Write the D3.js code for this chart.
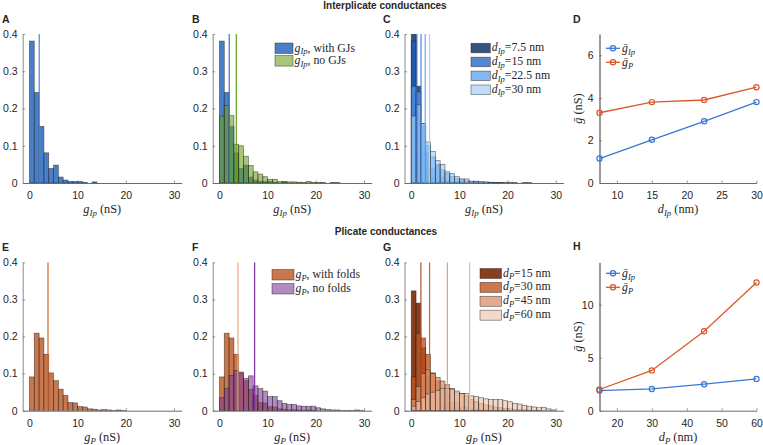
<!DOCTYPE html>
<html><head><meta charset="utf-8">
<script src="https://cdn.jsdelivr.net/npm/d3@7"></script>
<style>
body{margin:0;background:#fff}
svg{display:block}
text{font-family:"Liberation Sans",Arial,sans-serif;fill:#262626}
.math{font-family:"Liberation Serif","Times New Roman",serif}
</style></head><body>
<svg id="c" width="763" height="445"></svg>
<script>
// ---------- DATA ----------
const binEdges = [0,1,2,3,4,5,6,7,8,9,10,11,12,13,14,15,16,17,18,19,20,21,22,23,24,25,26,27,28,29,30];
const histXTicks = [0,10,20,30];
const histYTicks = [0,0.1,0.2,0.3,0.4];
const histYTickLabels = ['0','0.1','0.2','0.3','0.4'];

const gIpWithGJs = [0.381,0.243,0.152,0.081,0.039,0.048,0.016,0.008,0.004,0.004,0.004,0.001,0,0.003];
const gIpNoGJs = [0.18,0.208,0.181,0.104,0.10,0.072,0.047,0.030,0.024,0.017,0.010,0.010,0.004,0.004,0.003,0.003,0.002,0.001,0.004,0.001,0.001,0.001,0,0.001,0.001];
const meanGIpWithGJs = 2.03, meanGIpNoGJs = 3.5;

const gIpD75 = [0.58,0.26,0.09,0.035,0.015,0.008,0.004,0.003,0.002,0.001,0.001];
const gIpD15 = [0.381,0.243,0.152,0.081,0.039,0.048,0.016,0.008,0.004,0.004,0.004,0.001,0,0.003];
const gIpD225 = [0.26,0.245,0.16,0.1,0.07,0.05,0.035,0.025,0.017,0.012,0.009,0.006,0.004,0.003,0.002,0.002,0.001,0.001,0.001];
const gIpD30 = [0.18,0.21,0.16,0.11,0.085,0.06,0.05,0.03,0.025,0.017,0.011,0.011,0.005,0.005,0.004,0.003,0.002,0.001,0.001,0.002,0.002,0.001,0,0.001,0.001];

const gPWithFolds = [0.091,0.209,0.196,0.152,0.102,0.081,0.058,0.041,0.022,0.021,0.011,0.010,0.005,0.004,0.002,0.003,0.002,0.001,0.002,0.001];
const gPNoFolds = [0.035,0.06,0.095,0.108,0.104,0.087,0.094,0.067,0.06,0.053,0.038,0.038,0.027,0.02,0.017,0.017,0.013,0.012,0.012,0.012,0.008,0.005,0.003,0.002,0.002,0.001,0.001,0.001,0.002,0.001];
const meanGPWithFolds = 3.85, meanGPNoFolds = 7.3;

const gPD15 = [0.323,0.29,0.17,0.09,0.05,0.03,0.018,0.01,0.007,0.004,0.003,0.002,0.001,0.001,0.001];
const gPD30 = [0.091,0.209,0.196,0.152,0.102,0.081,0.058,0.041,0.022,0.021,0.011,0.010,0.005,0.004,0.002,0.003,0.002,0.001,0.002,0.001];
const gPD45 = [0.03,0.065,0.1,0.11,0.1,0.09,0.08,0.07,0.06,0.05,0.046,0.04,0.03,0.025,0.02,0.016,0.013,0.01,0.008,0.006,0.005,0.004,0.003,0.002,0.002,0.001,0.001];
const gPD60 = [0.012,0.025,0.035,0.045,0.05,0.055,0.06,0.06,0.058,0.053,0.046,0.046,0.04,0.038,0.035,0.032,0.03,0.03,0.03,0.027,0.024,0.02,0.018,0.014,0.012,0.01,0.008,0.009,0.005,0.002];

const dIp = [7.5,15,22.5,30];
const meanGIpVsDIp = [1.15,2.03,2.9,3.8];
const meanGPVsDIp = [3.3,3.8,3.9,4.5];
const dIpTicks = [10,15,20,25,30];
const dIpYTicks = [0,2,4,6];

const dP = [15,30,45,60];
const meanGIpVsDP = [1.9,2.05,2.5,3.0];
const meanGPVsDP = [2.0,3.8,7.5,12.1];
const dPTicks = [20,30,40,50,60];
const dPYTicks = [0,5,10];

// ---------- HELPERS ----------
const svg = d3.select('#c');
const FS = 10.5;
const MS = 12.3;
const LS = 11.8;
const histXDomain = [-1.4, 31.6];
const histW = 159;
const topY = [183, 34], botY = [410.7, 262.3];
const lineX = [599.5, 756.5];

function addMath(t, parts, size) {
  let wasSub = false;
  parts.forEach(p => {
    const ts = t.append('tspan').text(p.t);
    if (p.i) ts.attr('font-style', 'italic');
    if (p.sub) {
      ts.attr('font-size', size * 0.72);
      if (!wasSub) ts.attr('dy', size * 0.25);
      wasSub = true;
    } else {
      if (wasSub) ts.attr('dy', -size * 0.25);
      wasSub = false;
    }
  });
  return t;
}
function mathText(x, y, parts, size, anchor) {
  const t = svg.append('text').attr('class', 'math').attr('x', x).attr('y', y)
    .attr('font-size', size).attr('text-anchor', anchor || 'start');
  return addMath(t, parts, size);
}
const gIpLbl = [{t:'g',i:true},{t:'Ip',i:true,sub:true}];
const gPLbl = [{t:'g',i:true},{t:'P',i:true,sub:true}];

function styleAxis(a, domainColor, domainWidth) {
  a.select('.domain').attr('stroke', domainColor).attr('stroke-width', domainWidth);
  a.selectAll('.tick line').attr('stroke', '#555').attr('stroke-width', 0.6);
  a.selectAll('.tick text').attr('font-size', FS).attr('fill', '#262626')
    .attr('font-family', '"Liberation Sans",Arial,sans-serif');
}

function drawHist(cfg) {
  const x = d3.scaleLinear().domain(histXDomain).range([cfg.x0, cfg.x0 + histW]);
  const y = d3.scaleLinear().domain([0, 0.4]).range(cfg.yRange);
  const id = 'clip' + cfg.id;
  svg.append('clipPath').attr('id', id).append('rect')
    .attr('x', cfg.x0).attr('y', y(0.4)).attr('width', histW).attr('height', y(0) - y(0.4));
  const plot = svg.append('g').attr('clip-path', `url(#${id})`);
  cfg.series.forEach(s => {
    plot.append('g').selectAll('rect')
      .data(s.data.map((v, i) => ({v, i})).filter(d => d.v > 0))
      .join('rect')
      .attr('x', d => x(binEdges[d.i])).attr('width', d => x(binEdges[d.i + 1]) - x(binEdges[d.i]))
      .attr('y', d => y(d.v)).attr('height', d => y(0) - y(d.v))
      .attr('fill', s.color).attr('fill-opacity', s.op)
      .attr('stroke', '#1a1a1a').attr('stroke-opacity', 0.6).attr('stroke-width', 0.7);
  });
  cfg.means.forEach(m => {
    plot.append('line').attr('x1', x(m.v)).attr('x2', x(m.v))
      .attr('y1', y(0)).attr('y2', y(0.4)).attr('stroke', m.color).attr('stroke-width', 1.2);
  });
  const ya = svg.append('g').attr('transform', `translate(${cfg.x0},0)`)
    .call(d3.axisLeft(y).tickValues(histYTicks).tickFormat((d, i) => histYTickLabels[i])
      .tickSizeInner(-2.5).tickSizeOuter(0).tickPadding(5));
  styleAxis(ya, '#8a8a8a', 1);
  const xa = svg.append('g').attr('transform', `translate(0,${cfg.yRange[0]})`)
    .call(d3.axisBottom(x).tickValues(histXTicks).tickSizeInner(-2.5).tickSizeOuter(0).tickPadding(9));
  styleAxis(xa, '#6a6a6a', 1);
  mathText(cfg.x0 + histW / 2, cfg.yRange[0] + 30, cfg.xLabel.concat([{t:' (nS)'}]), MS, 'middle');
  if (cfg.legend) {
    const L = cfg.legend;
    L.items.forEach((it, k) => {
      const yy = L.y + k * L.dy;
      svg.append('rect').attr('x', L.x).attr('y', yy).attr('width', L.w).attr('height', L.h)
        .attr('fill', it.color).attr('fill-opacity', it.op)
        .attr('stroke', '#1a1a1a').attr('stroke-opacity', 0.6).attr('stroke-width', 0.7);
      mathText(L.x + L.w + 1.5, yy + L.h - 2, it.label, LS);
    });
  }
}

function drawLine(cfg) {
  const x = d3.scaleLinear().domain(cfg.xDomain).range(lineX);
  const y = d3.scaleLinear().domain([0, cfg.yMax]).range(cfg.yRange);
  const ya = svg.append('g').attr('transform', `translate(${lineX[0]},0)`)
    .call(d3.axisLeft(y).tickValues(cfg.yTicks).tickFormat(d3.format('d'))
      .tickSizeInner(-2.5).tickSizeOuter(0).tickPadding(6));
  styleAxis(ya, '#9a9a9a', 2);
  const xa = svg.append('g').attr('transform', `translate(0,${cfg.yRange[0]})`)
    .call(d3.axisBottom(x).tickValues(cfg.xTicks).tickSizeInner(-2.5).tickSizeOuter(0).tickPadding(9));
  styleAxis(xa, '#6a6a6a', 1);
  cfg.series.forEach(s => {
    const pts = cfg.xs.map((v, i) => [x(v), y(s.vals[i])]);
    svg.append('path').attr('d', d3.line()(pts)).attr('fill', 'none')
      .attr('stroke', s.color).attr('stroke-width', 1.3);
    svg.append('g').selectAll('circle').data(pts).join('circle')
      .attr('cx', d => d[0]).attr('cy', d => d[1]).attr('r', 2.6)
      .attr('fill', 'none').attr('stroke', s.color).attr('stroke-width', 1.2);
  });
  cfg.series.forEach((s, k) => {
    const yy = cfg.legendY + k * 14;
    svg.append('line').attr('x1', 606).attr('x2', 620).attr('y1', yy).attr('y2', yy)
      .attr('stroke', s.color).attr('stroke-width', 1.3);
    svg.append('circle').attr('cx', 613).attr('cy', yy).attr('r', 2.6)
      .attr('fill', 'none').attr('stroke', s.color).attr('stroke-width', 1.2);
    mathText(622, yy + 3.5, s.label, LS);
  });
  const yl = svg.append('text').attr('class', 'math').attr('font-size', MS)
    .attr('text-anchor', 'middle')
    .attr('transform', `translate(582,${(cfg.yRange[0] + cfg.yRange[1]) / 2}) rotate(-90)`);
  addMath(yl, [{t:'g\u0304',i:true},{t:' (nS)'}], MS);
  mathText((lineX[0] + lineX[1]) / 2, cfg.yRange[0] + 30, cfg.xLabel.concat([{t:' (nm)'}]), MS, 'middle');
}

// ---------- TITLES & LETTERS ----------
svg.append('text').attr('x', 385).attr('y', 9).attr('text-anchor', 'middle')
  .attr('font-size', 10).attr('font-weight', 'bold').attr('fill', '#111').text('Interplicate conductances');
svg.append('text').attr('x', 386).attr('y', 235).attr('text-anchor', 'middle')
  .attr('font-size', 10).attr('font-weight', 'bold').attr('fill', '#111').text('Plicate conductances');
[['A',2,23],['B',192,23],['C',383,23],['D',573,23],['E',2,251],['F',192,251],['G',383,251],['H',573,250]]
  .forEach(([l, x, y]) => svg.append('text').attr('x', x).attr('y', y).attr('font-size', 10.5)
    .attr('font-weight', 'bold').attr('fill', '#111').text(l));

// ---------- COLORS ----------
const cBlue = '#1d5fb9', cGreen = '#6ea01e', cOrange = '#b94a12', cPurple = '#7e3d98';
const cIp = ['#1f3f73', '#1a5fc0', '#4d9bf1', '#9ecdf8'];
const opIp = [0.9, 0.75, 0.7, 0.65];
const cP = ['#7a2a08', '#c2541f', '#db9068', '#ecc4ae'];
const opP = [0.9, 0.8, 0.75, 0.65];

// ---------- PANELS ----------
drawHist({id:'A', x0:22.7, yRange:topY, xLabel:gIpLbl,
  series:[{data:gIpWithGJs, color:cBlue, op:0.8}],
  means:[{v:meanGIpWithGJs, color:'#4f86d6'}]});

drawHist({id:'B', x0:212.7, yRange:topY, xLabel:gIpLbl,
  series:[{data:gIpWithGJs, color:cBlue, op:0.8},{data:gIpNoGJs, color:cGreen, op:0.6}],
  means:[{v:meanGIpWithGJs, color:'#3d72d4'},{v:meanGIpNoGJs, color:'#62a313'}],
  legend:{x:275, y:43, dy:12.6, w:18, h:10.5, items:[
    {color:cBlue, op:0.8, label:gIpLbl.concat([{t:', with GJs'}])},
    {color:cGreen, op:0.6, label:gIpLbl.concat([{t:', no GJs'}])}]}});

drawHist({id:'C', x0:404.5, yRange:topY, xLabel:gIpLbl,
  series:[gIpD75, gIpD15, gIpD225, gIpD30].map((d, i) => ({data:d, color:cIp[i], op:opIp[i]})),
  means:meanGIpVsDIp.map((v, i) => ({v, color:['#3a63a8','#4a86d8','#6aaaf0','#a8d2fa'][i]})),
  legend:{x:471, y:43.3, dy:13.9, w:19.3, h:9.5, items:dIp.map((d, i) => ({color:cIp[i], op:opIp[i],
    label:[{t:'d',i:true},{t:'Ip',i:true,sub:true},{t:'=' + d + ' nm'}]}))}});

drawLine({xDomain:[7.5,30], yMax:7, yRange:topY, yTicks:dIpYTicks, xTicks:dIpTicks, xs:dIp,
  legendY:48.3, xLabel:[{t:'d',i:true},{t:'Ip',i:true,sub:true}],
  series:[{vals:meanGIpVsDIp, color:'#3c78d2', label:[{t:'g\u0304',i:true},{t:'Ip',i:true,sub:true}]},
          {vals:meanGPVsDIp, color:'#d95a28', label:[{t:'g\u0304',i:true},{t:'P',i:true,sub:true}]}]});

drawHist({id:'E', x0:22.7, yRange:botY, xLabel:gPLbl,
  series:[{data:gPWithFolds, color:cOrange, op:0.75}],
  means:[{v:meanGPWithFolds, color:'#d2612c'}]});

drawHist({id:'F', x0:212.7, yRange:botY, xLabel:gPLbl,
  series:[{data:gPWithFolds, color:cOrange, op:0.75},{data:gPNoFolds, color:cPurple, op:0.6}],
  means:[{v:meanGPWithFolds, color:'#eba888'},{v:meanGPNoFolds, color:'#7a2fa0'}],
  legend:{x:272, y:269.5, dy:14, w:22, h:10.5, items:[
    {color:cOrange, op:0.75, label:gPLbl.concat([{t:', with folds'}])},
    {color:cPurple, op:0.6, label:gPLbl.concat([{t:', no folds'}])}]}});

drawHist({id:'G', x0:404.5, yRange:botY, xLabel:gPLbl,
  series:[gPD15, gPD30, gPD45, gPD60].map((d, i) => ({data:d, color:cP[i], op:opP[i]})),
  means:meanGPVsDP.map((v, i) => ({v, color:['#b0502a','#d0662f','#e5a07b','#eeb89c'][i]})),
  legend:{x:480, y:268.5, dy:13.9, w:21.5, h:10, items:dP.map((d, i) => ({color:cP[i], op:opP[i],
    label:[{t:'d',i:true},{t:'P',i:true,sub:true},{t:'=' + d + ' nm'}]}))}});

drawLine({xDomain:[15,60], yMax:14, yRange:botY, yTicks:dPYTicks, xTicks:dPTicks, xs:dP,
  legendY:273.3, xLabel:[{t:'d',i:true},{t:'P',i:true,sub:true}],
  series:[{vals:meanGIpVsDP, color:'#3c78d2', label:[{t:'g\u0304',i:true},{t:'Ip',i:true,sub:true}]},
          {vals:meanGPVsDP, color:'#d95a28', label:[{t:'g\u0304',i:true},{t:'P',i:true,sub:true}]}]});
</script></body></html>
